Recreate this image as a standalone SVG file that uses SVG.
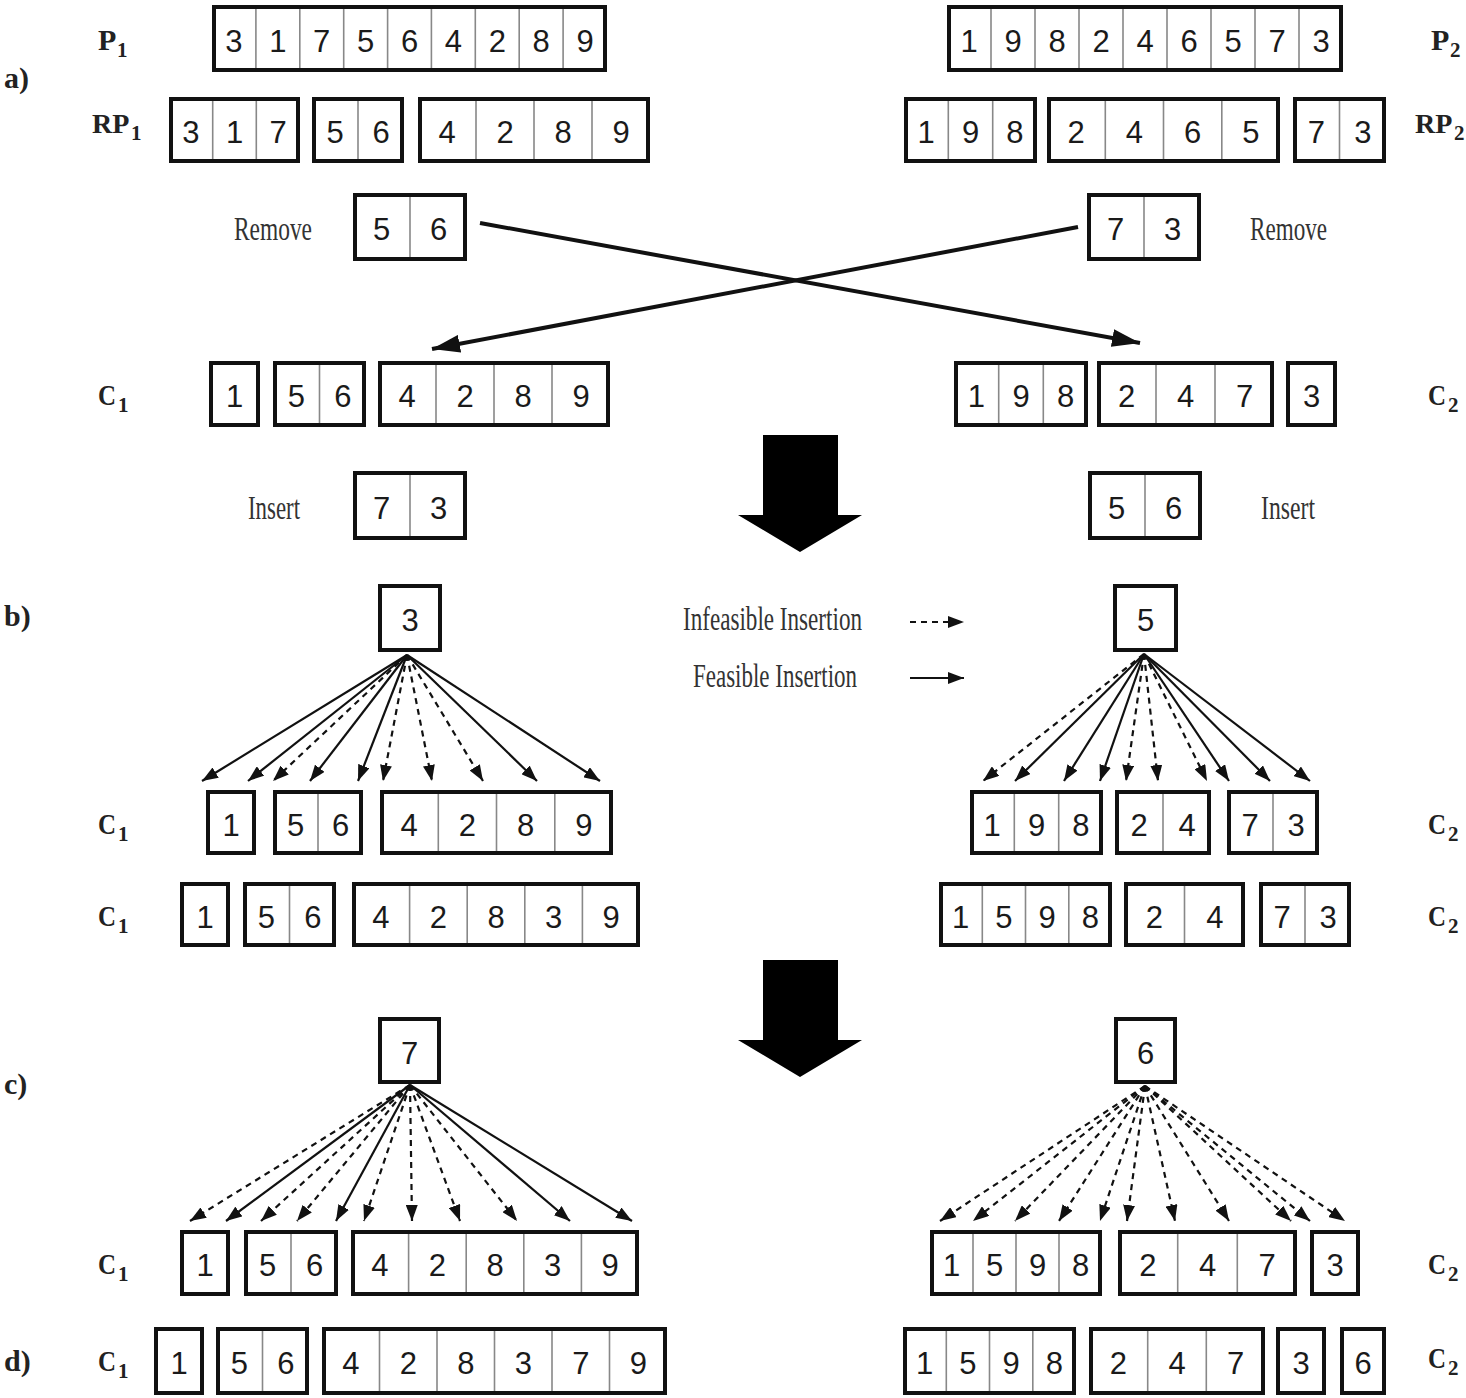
<svg xmlns="http://www.w3.org/2000/svg" width="1466" height="1398" viewBox="0 0 1466 1398">
<style>
.bx{fill:#fff;stroke:#111;stroke-width:4}
.dv{stroke:#888;stroke-width:1.6;fill:none}
.n{font-family:"Liberation Sans",Arial,sans-serif;font-size:31px;fill:#1a1a1a;text-anchor:middle}
.lb{font-family:"Liberation Serif","Times New Roman",serif;font-weight:bold;font-size:30px;fill:#222}
.rp{font-size:28px}
.sub{font-size:21px}
.tx{font-family:"Liberation Serif","Times New Roman",serif;font-size:34px;fill:#333}
.ln{stroke:#111;stroke-width:2.2;fill:none;marker-end:url(#ah)}
.dash{stroke-dasharray:6 5}
.big{stroke:#111;stroke-width:4;fill:none;marker-end:url(#bah)}
.blk{fill:#000}
</style>
<defs>
<marker id="ah" viewBox="0 0 16 12" refX="16" refY="6" markerWidth="16" markerHeight="12" markerUnits="userSpaceOnUse" orient="auto"><path d="M0,0 L16,6 L0,12 z" fill="#111"/></marker>
<marker id="bah" viewBox="0 0 28 18" refX="28" refY="9" markerWidth="28" markerHeight="18" markerUnits="userSpaceOnUse" orient="auto"><path d="M0,0 L28,9 L0,18 z" fill="#111"/></marker>
</defs>
<rect width="1466" height="1398" fill="#fff"/>

<g id="labels">
<text class="lb" x="4" y="88">a)</text>
<text class="lb" x="4" y="626">b)</text>
<text class="lb" x="4" y="1094">c)</text>
<text class="lb" x="4" y="1371">d)</text>
<text class="lb" x="98" y="50">P</text><text class="lb sub" x="117" y="57">1</text>
<text class="lb rp" x="92" y="133">RP</text><text class="lb sub" x="131" y="140">1</text>
<text class="lb" x="1431" y="50">P</text><text class="lb sub" x="1450" y="57">2</text>
<text class="lb rp" x="1415" y="133">RP</text><text class="lb sub" x="1454" y="140">2</text>
<text class="lb" x="98" y="405" textLength="18" lengthAdjust="spacingAndGlyphs">C</text><text class="lb sub" x="118" y="412">1</text>
<text class="lb" x="1428" y="405" textLength="18" lengthAdjust="spacingAndGlyphs">C</text><text class="lb sub" x="1448" y="412">2</text>
<text class="lb" x="98" y="834" textLength="18" lengthAdjust="spacingAndGlyphs">C</text><text class="lb sub" x="118" y="841">1</text>
<text class="lb" x="98" y="926" textLength="18" lengthAdjust="spacingAndGlyphs">C</text><text class="lb sub" x="118" y="933">1</text>
<text class="lb" x="98" y="1274" textLength="18" lengthAdjust="spacingAndGlyphs">C</text><text class="lb sub" x="118" y="1281">1</text>
<text class="lb" x="98" y="1371" textLength="18" lengthAdjust="spacingAndGlyphs">C</text><text class="lb sub" x="118" y="1378">1</text>
<text class="lb" x="1428" y="834" textLength="18" lengthAdjust="spacingAndGlyphs">C</text><text class="lb sub" x="1448" y="841">2</text>
<text class="lb" x="1428" y="926" textLength="18" lengthAdjust="spacingAndGlyphs">C</text><text class="lb sub" x="1448" y="933">2</text>
<text class="lb" x="1428" y="1274" textLength="18" lengthAdjust="spacingAndGlyphs">C</text><text class="lb sub" x="1448" y="1281">2</text>
<text class="lb" x="1428" y="1368" textLength="18" lengthAdjust="spacingAndGlyphs">C</text><text class="lb sub" x="1448" y="1375">2</text>
<text class="tx" x="234" y="240" textLength="78" lengthAdjust="spacingAndGlyphs">Remove</text>
<text class="tx" x="1250" y="240" textLength="77" lengthAdjust="spacingAndGlyphs">Remove</text>
<text class="tx" x="248" y="519" textLength="52" lengthAdjust="spacingAndGlyphs">Insert</text>
<text class="tx" x="1261" y="519" textLength="54" lengthAdjust="spacingAndGlyphs">Insert</text>
<text class="tx" x="683" y="630" textLength="179" lengthAdjust="spacingAndGlyphs">Infeasible Insertion</text>
<text class="tx" x="693" y="687" textLength="164" lengthAdjust="spacingAndGlyphs">Feasible Insertion</text>
</g>

<g id="p1"><rect class="bx" x="214" y="7" width="391" height="63"/><path class="dv" d="M255.9 9V68M299.8 9V68M343.7 9V68M387.6 9V68M431.4 9V68M475.3 9V68M519.2 9V68M563.1 9V68"/>
<text class="n" x="233.9" y="52">3</text><text class="n" x="277.8" y="52">1</text><text class="n" x="321.7" y="52">7</text><text class="n" x="365.6" y="52">5</text><text class="n" x="409.5" y="52">6</text><text class="n" x="453.4" y="52">4</text><text class="n" x="497.3" y="52">2</text><text class="n" x="541.2" y="52">8</text><text class="n" x="585.1" y="52">9</text></g>
<g id="p2"><rect class="bx" x="949" y="7" width="392" height="63"/><path class="dv" d="M991 9V68M1035 9V68M1079 9V68M1123 9V68M1167 9V68M1211 9V68M1255 9V68M1299 9V68"/>
<text class="n" x="969" y="52">1</text><text class="n" x="1013" y="52">9</text><text class="n" x="1057" y="52">8</text><text class="n" x="1101" y="52">2</text><text class="n" x="1145" y="52">4</text><text class="n" x="1189" y="52">6</text><text class="n" x="1233" y="52">5</text><text class="n" x="1277" y="52">7</text><text class="n" x="1321" y="52">3</text></g>

<g id="rp1a"><rect class="bx" x="171" y="99" width="127" height="62"/><path class="dv" d="M212.7 101V159M256.3 101V159"/><text class="n" x="190.8" y="143">3</text><text class="n" x="234.5" y="143">1</text><text class="n" x="278.2" y="143">7</text></g>
<g id="rp1b"><rect class="bx" x="314" y="99" width="88" height="62"/><path class="dv" d="M358 101V159"/><text class="n" x="335" y="143">5</text><text class="n" x="381" y="143">6</text></g>
<g id="rp1c"><rect class="bx" x="420" y="99" width="228" height="62"/><path class="dv" d="M476 101V159M534 101V159M592 101V159"/><text class="n" x="447" y="143">4</text><text class="n" x="505" y="143">2</text><text class="n" x="563" y="143">8</text><text class="n" x="621" y="143">9</text></g>
<g id="rp2a"><rect class="bx" x="906" y="99" width="129" height="62"/><path class="dv" d="M948.3 101V159M992.7 101V159"/><text class="n" x="926.2" y="143">1</text><text class="n" x="970.5" y="143">9</text><text class="n" x="1014.8" y="143">8</text></g>
<g id="rp2b"><rect class="bx" x="1049" y="99" width="229" height="62"/><path class="dv" d="M1105.3 101V159M1163.5 101V159M1221.8 101V159"/><text class="n" x="1076.1" y="143">2</text><text class="n" x="1134.4" y="143">4</text><text class="n" x="1192.6" y="143">6</text><text class="n" x="1250.9" y="143">5</text></g>
<g id="rp2c"><rect class="bx" x="1295" y="99" width="89" height="62"/><path class="dv" d="M1339.5 101V159"/><text class="n" x="1316.3" y="143">7</text><text class="n" x="1362.8" y="143">3</text></g>

<g id="rm1"><rect class="bx" x="355" y="195" width="110" height="64"/><path class="dv" d="M410 197V257"/><text class="n" x="381.5" y="240">5</text><text class="n" x="438.5" y="240">6</text></g>
<g id="rm2"><rect class="bx" x="1089" y="195" width="110" height="64"/><path class="dv" d="M1144 197V257"/><text class="n" x="1115.5" y="240">7</text><text class="n" x="1172.5" y="240">3</text></g>

<g id="ca1a"><rect class="bx" x="211" y="363" width="47" height="62"/><text class="n" x="234.5" y="407">1</text></g>
<g id="ca1b"><rect class="bx" x="275" y="363" width="89" height="62"/><path class="dv" d="M319.5 365V423"/><text class="n" x="296.3" y="407">5</text><text class="n" x="342.8" y="407">6</text></g>
<g id="ca1c"><rect class="bx" x="380" y="363" width="228" height="62"/><path class="dv" d="M436 365V423M494 365V423M552 365V423"/><text class="n" x="407" y="407">4</text><text class="n" x="465" y="407">2</text><text class="n" x="523" y="407">8</text><text class="n" x="581" y="407">9</text></g>
<g id="ca2a"><rect class="bx" x="956" y="363" width="130" height="62"/><path class="dv" d="M998.7 365V423M1043.3 365V423"/><text class="n" x="976.3" y="407">1</text><text class="n" x="1021" y="407">9</text><text class="n" x="1065.7" y="407">8</text></g>
<g id="ca2b"><rect class="bx" x="1099" y="363" width="173" height="62"/><path class="dv" d="M1156 365V423M1215 365V423"/><text class="n" x="1126.5" y="407">2</text><text class="n" x="1185.5" y="407">4</text><text class="n" x="1244.5" y="407">7</text></g>
<g id="ca2c"><rect class="bx" x="1288" y="363" width="47" height="62"/><text class="n" x="1311.5" y="407">3</text></g>

<g id="in1"><rect class="bx" x="355" y="473" width="110" height="65"/><path class="dv" d="M410 475V536"/><text class="n" x="381.5" y="519">7</text><text class="n" x="438.5" y="519">3</text></g>
<g id="in2"><rect class="bx" x="1090" y="473" width="110" height="65"/><path class="dv" d="M1145 475V536"/><text class="n" x="1116.5" y="519">5</text><text class="n" x="1173.5" y="519">6</text></g>

<g id="sb1"><rect class="bx" x="380" y="586" width="60" height="64"/><text class="n" x="410" y="631">3</text></g>
<g id="sb2"><rect class="bx" x="1115" y="586" width="61" height="64"/><text class="n" x="1145.5" y="631">5</text></g>

<g id="b1a"><rect class="bx" x="208" y="792" width="46" height="61"/><text class="n" x="231" y="836">1</text></g>
<g id="b1b"><rect class="bx" x="275" y="792" width="86" height="61"/><path class="dv" d="M318 794V851"/><text class="n" x="295.5" y="836">5</text><text class="n" x="340.5" y="836">6</text></g>
<g id="b1c"><rect class="bx" x="382" y="792" width="229" height="61"/><path class="dv" d="M438.3 794V851M496.5 794V851M554.8 794V851"/><text class="n" x="409.1" y="836">4</text><text class="n" x="467.4" y="836">2</text><text class="n" x="525.6" y="836">8</text><text class="n" x="583.9" y="836">9</text></g>
<g id="b1d"><rect class="bx" x="972" y="792" width="129" height="61"/><path class="dv" d="M1014.3 794V851M1058.7 794V851"/><text class="n" x="992.2" y="836">1</text><text class="n" x="1036.5" y="836">9</text><text class="n" x="1080.8" y="836">8</text></g>
<g id="b1e"><rect class="bx" x="1117" y="792" width="92" height="61"/><path class="dv" d="M1163 794V851"/><text class="n" x="1139" y="836">2</text><text class="n" x="1187" y="836">4</text></g>
<g id="b1f"><rect class="bx" x="1229" y="792" width="88" height="61"/><path class="dv" d="M1273 794V851"/><text class="n" x="1250" y="836">7</text><text class="n" x="1296" y="836">3</text></g>

<g id="b2a"><rect class="bx" x="182" y="884" width="46" height="61"/><text class="n" x="205" y="928">1</text></g>
<g id="b2b"><rect class="bx" x="245" y="884" width="89" height="61"/><path class="dv" d="M289.5 886V943"/><text class="n" x="266.3" y="928">5</text><text class="n" x="312.8" y="928">6</text></g>
<g id="b2c"><rect class="bx" x="354" y="884" width="284" height="61"/><path class="dv" d="M409.6 886V943M467.2 886V943M524.8 886V943M582.4 886V943"/><text class="n" x="380.8" y="928">4</text><text class="n" x="438.4" y="928">2</text><text class="n" x="496" y="928">8</text><text class="n" x="553.6" y="928">3</text><text class="n" x="611.2" y="928">9</text></g>
<g id="b2d"><rect class="bx" x="941" y="884" width="169" height="61"/><path class="dv" d="M982.3 886V943M1025.5 886V943M1068.8 886V943"/><text class="n" x="960.6" y="928">1</text><text class="n" x="1003.9" y="928">5</text><text class="n" x="1047.1" y="928">9</text><text class="n" x="1090.4" y="928">8</text></g>
<g id="b2e"><rect class="bx" x="1126" y="884" width="117" height="61"/><path class="dv" d="M1184.5 886V943"/><text class="n" x="1154.3" y="928">2</text><text class="n" x="1214.8" y="928">4</text></g>
<g id="b2f"><rect class="bx" x="1261" y="884" width="88" height="61"/><path class="dv" d="M1305 886V943"/><text class="n" x="1282" y="928">7</text><text class="n" x="1328" y="928">3</text></g>

<g id="sc1"><rect class="bx" x="380" y="1019" width="59" height="63"/><text class="n" x="409.5" y="1064">7</text></g>
<g id="sc2"><rect class="bx" x="1116" y="1019" width="59" height="63"/><text class="n" x="1145.5" y="1064">6</text></g>

<g id="c1a"><rect class="bx" x="182" y="1232" width="46" height="62"/><text class="n" x="205" y="1276">1</text></g>
<g id="c1b"><rect class="bx" x="246" y="1232" width="90" height="62"/><path class="dv" d="M291 1234V1292"/><text class="n" x="267.5" y="1276">5</text><text class="n" x="314.5" y="1276">6</text></g>
<g id="c1c"><rect class="bx" x="353" y="1232" width="284" height="62"/><path class="dv" d="M408.6 1234V1292M466.2 1234V1292M523.8 1234V1292M581.4 1234V1292"/><text class="n" x="379.8" y="1276">4</text><text class="n" x="437.4" y="1276">2</text><text class="n" x="495" y="1276">8</text><text class="n" x="552.6" y="1276">3</text><text class="n" x="610.2" y="1276">9</text></g>
<g id="c2a"><rect class="bx" x="932" y="1232" width="168" height="62"/><path class="dv" d="M973 1234V1292M1016 1234V1292M1059 1234V1292"/><text class="n" x="951.5" y="1276">1</text><text class="n" x="994.5" y="1276">5</text><text class="n" x="1037.5" y="1276">9</text><text class="n" x="1080.5" y="1276">8</text></g>
<g id="c2b"><rect class="bx" x="1120" y="1232" width="175" height="62"/><path class="dv" d="M1177.7 1234V1292M1237.3 1234V1292"/><text class="n" x="1147.8" y="1276">2</text><text class="n" x="1207.5" y="1276">4</text><text class="n" x="1267.2" y="1276">7</text></g>
<g id="c2c"><rect class="bx" x="1312" y="1232" width="46" height="62"/><text class="n" x="1335" y="1276">3</text></g>

<g id="d1a"><rect class="bx" x="156" y="1329" width="46" height="64"/><text class="n" x="179" y="1374">1</text></g>
<g id="d1b"><rect class="bx" x="218" y="1329" width="89" height="64"/><path class="dv" d="M262.5 1331V1391"/><text class="n" x="239.3" y="1374">5</text><text class="n" x="285.8" y="1374">6</text></g>
<g id="d1c"><rect class="bx" x="324" y="1329" width="341" height="64"/><path class="dv" d="M379.5 1331V1391M437 1331V1391M494.5 1331V1391M552 1331V1391M609.5 1331V1391"/><text class="n" x="350.8" y="1374">4</text><text class="n" x="408.3" y="1374">2</text><text class="n" x="465.8" y="1374">8</text><text class="n" x="523.3" y="1374">3</text><text class="n" x="580.8" y="1374">7</text><text class="n" x="638.3" y="1374">9</text></g>
<g id="d2a"><rect class="bx" x="905" y="1329" width="169" height="64"/><path class="dv" d="M946.3 1331V1391M989.5 1331V1391M1032.8 1331V1391"/><text class="n" x="924.6" y="1374">1</text><text class="n" x="967.9" y="1374">5</text><text class="n" x="1011.1" y="1374">9</text><text class="n" x="1054.4" y="1374">8</text></g>
<g id="d2b"><rect class="bx" x="1091" y="1329" width="172" height="64"/><path class="dv" d="M1147.7 1331V1391M1206.3 1331V1391"/><text class="n" x="1118.3" y="1374">2</text><text class="n" x="1177" y="1374">4</text><text class="n" x="1235.7" y="1374">7</text></g>
<g id="d2c"><rect class="bx" x="1278" y="1329" width="46" height="64"/><text class="n" x="1301" y="1374">3</text></g>
<g id="d2d"><rect class="bx" x="1342" y="1329" width="42" height="64"/><text class="n" x="1363" y="1374">6</text></g>

<g id="connectors">
<path class="big" d="M480,223 L1140,343"/>
<path class="big" d="M1078,227 L432,349"/>
<path class="blk" d="M763,435 H838 V515 H862 L800,552 L738,515 H763 Z"/>
<path class="blk" d="M763,960 H838 V1040 H862 L800,1077 L738,1040 H763 Z"/>
<path class="ln dash" d="M910,622 H964"/>
<path class="ln" d="M910,678 H964"/>

<path class="ln" d="M407,655 L202,781"/>
<path class="ln" d="M407,655 L248,781"/>
<path class="ln dash" d="M407,655 L273,781"/>
<path class="ln" d="M407,655 L310,781"/>
<path class="ln" d="M407,655 L358,781"/>
<path class="ln dash" d="M407,655 L383,781"/>
<path class="ln dash" d="M407,655 L432,781"/>
<path class="ln dash" d="M407,655 L483,781"/>
<path class="ln" d="M407,655 L537,781"/>
<path class="ln" d="M407,655 L600,781"/>

<path class="ln dash" d="M1144,654 L983,781"/>
<path class="ln" d="M1144,654 L1015,781"/>
<path class="ln" d="M1144,654 L1064,781"/>
<path class="ln" d="M1144,654 L1100,781"/>
<path class="ln dash" d="M1144,654 L1126,781"/>
<path class="ln dash" d="M1144,654 L1158,781"/>
<path class="ln dash" d="M1144,654 L1207,781"/>
<path class="ln" d="M1144,654 L1229,781"/>
<path class="ln" d="M1144,654 L1270,781"/>
<path class="ln" d="M1144,654 L1310,781"/>

<path class="ln dash" d="M410,1085 L190,1221"/>
<path class="ln" d="M410,1085 L226,1221"/>
<path class="ln dash" d="M410,1085 L261,1221"/>
<path class="ln dash" d="M410,1085 L297,1221"/>
<path class="ln" d="M410,1085 L336,1221"/>
<path class="ln dash" d="M410,1085 L364,1221"/>
<path class="ln dash" d="M410,1085 L412,1221"/>
<path class="ln dash" d="M410,1085 L460,1221"/>
<path class="ln dash" d="M410,1085 L517,1221"/>
<path class="ln" d="M410,1085 L570,1221"/>
<path class="ln" d="M410,1085 L632,1221"/>

<path class="ln dash" d="M1145,1086 L940,1221"/>
<path class="ln dash" d="M1145,1086 L973,1221"/>
<path class="ln dash" d="M1145,1086 L1015,1221"/>
<path class="ln dash" d="M1145,1086 L1059,1221"/>
<path class="ln dash" d="M1145,1086 L1100,1221"/>
<path class="ln dash" d="M1145,1086 L1127,1221"/>
<path class="ln dash" d="M1145,1086 L1175,1221"/>
<path class="ln dash" d="M1145,1086 L1229,1221"/>
<path class="ln dash" d="M1145,1086 L1291,1221"/>
<path class="ln dash" d="M1145,1086 L1310,1221"/>
<path class="ln dash" d="M1145,1086 L1345,1221"/>
</g>
</svg>
